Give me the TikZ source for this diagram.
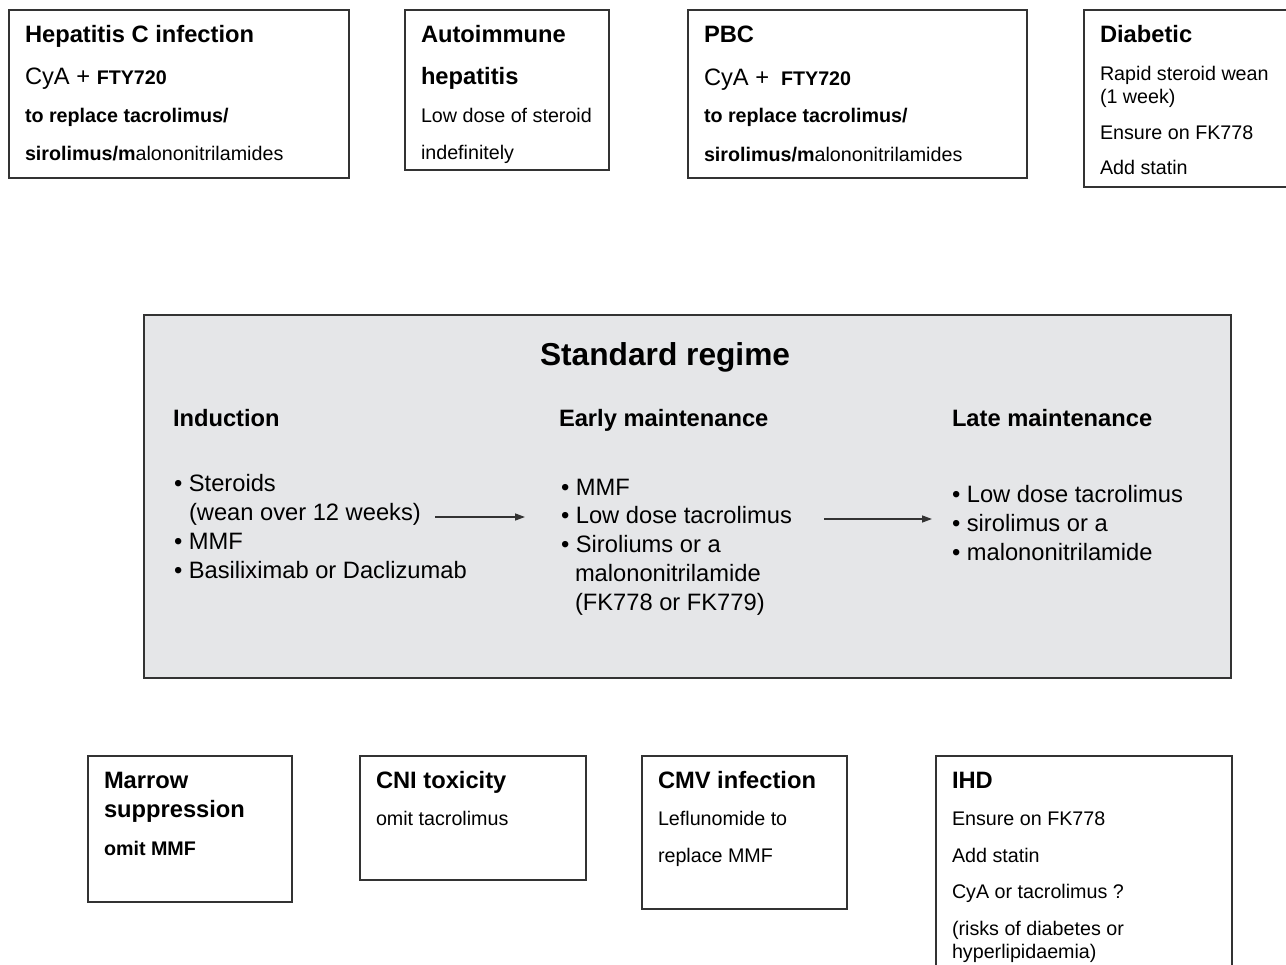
\documentclass[tikz,border=0pt]{standalone}
\usepackage{fontspec}
\setmainfont{Liberation Sans}
\usetikzlibrary{arrows.meta}
\definecolor{boxline}{HTML}{333333}
\definecolor{regfill}{HTML}{E5E6E8}
\newcommand{\bigsz}{\fontsize{23.7}{28}\selectfont}
\newcommand{\smsz}{\fontsize{19.7}{24}\selectfont}
\tikzset{
  box/.style={draw=boxline, line width=1.6pt, anchor=north west, inner sep=0pt, outer sep=0pt},
  txt/.style={anchor=west, inner sep=0pt, outer sep=0pt, text depth=0pt},
  hd/.style={txt, font=\bigsz\bfseries, text height=17pt},
  bg/.style={txt, font=\bigsz, text height=17pt},
  sm/.style={txt, font=\smsz, text height=14.1pt},
  smb/.style={txt, font=\smsz\bfseries, text height=14.1pt},
  ttl/.style={txt, font=\fontsize{31.7}{36}\selectfont\bfseries, text height=22.7pt},
  flow/.style={draw=boxline, line width=1.3pt, -{Triangle[length=10pt,width=7pt]}},
}
\begin{document}
\begin{tikzpicture}[x=1pt,y=-1pt]
\useasboundingbox (0,0) rectangle (1286,965);
\clip (0,0) rectangle (1286,965);
% top row
\node[box, minimum width=340pt, minimum height=168pt] (hepc) at (9,10) {};
\node[hd] (hepc1) at (25,34) {Hepatitis C infection};
\node[bg] (hepc2) at (25,76) {CyA + {\smsz\bfseries FTY720}};
\node[smb] (hepc3) at (25,115) {to replace tacrolimus/};
\node[sm] (hepc4) at (25,153) {{\bfseries sirolimus/m}alononitrilamides};

\node[box, minimum width=204pt, minimum height=160pt] (aih) at (405,10) {};
\node[hd] (aih1) at (421,34) {Autoimmune};
\node[hd] (aih2) at (421,76) {hepatitis};
\node[sm] (aih3) at (421,115) {Low dose of steroid};
\node[sm] (aih4) at (421,152) {indefinitely};

\node[box, minimum width=339pt, minimum height=168pt] (pbc) at (688,10) {};
\node[hd] (pbc1) at (704,34) {PBC};
\node[bg] (pbc2) at (704,77) {CyA +\hspace{0.5em}{\smsz\bfseries FTY720}};
\node[smb] (pbc3) at (704,115) {to replace tacrolimus/};
\node[sm] (pbc4) at (704,154) {{\bfseries sirolimus/m}alononitrilamides};

\node[box, minimum width=215pt, minimum height=177pt] (diab) at (1084,10) {};
\node[hd] (diab1) at (1100,34) {Diabetic};
\node[sm] (diab2) at (1100,73) {Rapid steroid wean};
\node[sm] (diab3) at (1100,96) {(1 week)};
\node[sm] (diab4) at (1100,132) {Ensure on FK778};
\node[sm] (diab5) at (1100,167) {Add statin};

% standard regime
\node[box, fill=regfill, minimum width=1087pt, minimum height=363pt] (std) at (144,315) {};
\node[ttl] (stdt) at (540,354) {Standard regime};
\node[hd] (ind) at (173,418) {Induction};
\node[hd] (early) at (559,418) {Early maintenance};
\node[hd] (late) at (952,418) {Late maintenance};

\node[bg] (i1) at (174,483) {\textbullet\ Steroids};
\node[bg] (i2) at (189,512) {(wean over 12 weeks)};
\node[bg] (i3) at (174,541) {\textbullet\ MMF};
\node[bg] (i4) at (174,570) {\textbullet\ Basiliximab or Daclizumab};

\node[bg] (e1) at (561,487) {\textbullet\ MMF};
\node[bg] (e2) at (561,515) {\textbullet\ Low dose tacrolimus};
\node[bg] (e3) at (561,544) {\textbullet\ Siroliums or a};
\node[bg] (e4) at (575,573) {malononitrilamide};
\node[bg] (e5) at (575,602) {(FK778 or FK779)};

\node[bg] (l1) at (952,494) {\textbullet\ Low dose tacrolimus};
\node[bg] (l2) at (952,523) {\textbullet\ sirolimus or a};
\node[bg] (l3) at (952,552) {\textbullet\ malononitrilamide};

\coordinate (a1s) at (435,517);
\coordinate (a1e) at (525,517);
\coordinate (a2s) at (824,519);
\coordinate (a2e) at (932,519);
\draw[flow] (a1s) -- (a1e);
\draw[flow] (a2s) -- (a2e);

% bottom row
\node[box, minimum width=204pt, minimum height=146pt] (mar) at (88,756) {};
\node[hd] (mar1) at (104,780) {Marrow};
\node[hd] (mar2) at (104,809) {suppression};
\node[smb] (mar3) at (104,848) {omit MMF};

\node[box, minimum width=226pt, minimum height=124pt] (cni) at (360,756) {};
\node[hd] (cni1) at (376,780) {CNI toxicity};
\node[sm] (cni2) at (376,818) {omit tacrolimus};

\node[box, minimum width=205pt, minimum height=153pt] (cmv) at (642,756) {};
\node[hd] (cmv1) at (658,780) {CMV infection};
\node[sm] (cmv2) at (658,818) {Leflunomide to};
\node[sm] (cmv3) at (658,855) {replace MMF};

\node[box, minimum width=296pt, minimum height=230pt] (ihd) at (936,756) {};
\node[hd] (ihd1) at (952,780) {IHD};
\node[sm] (ihd2) at (952,818) {Ensure on FK778};
\node[sm] (ihd3) at (952,855) {Add statin};
\node[sm] (ihd4) at (952,891) {CyA or tacrolimus ?};
\node[sm] (ihd5) at (952,928) {(risks of diabetes or};
\node[sm] (ihd6) at (952,951) {hyperlipidaemia)};
\end{tikzpicture}
\end{document}
